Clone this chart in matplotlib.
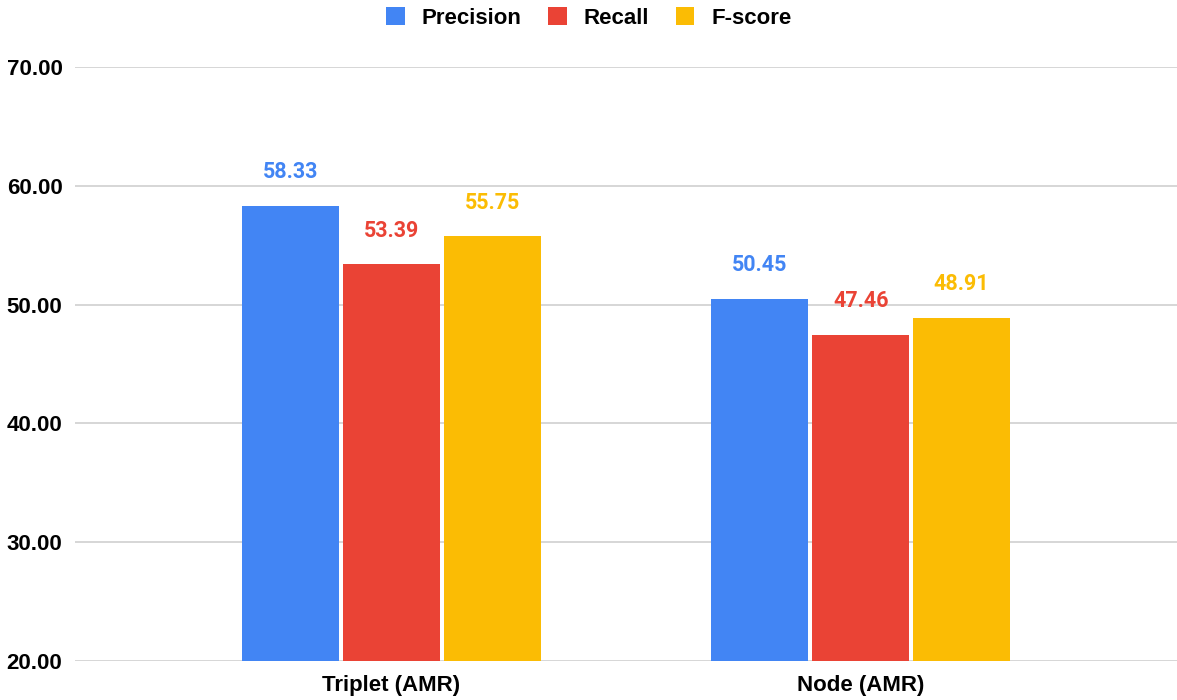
import numpy as np
import matplotlib
matplotlib.use('Agg')
import matplotlib.pyplot as plt

# ── Data ──────────────────────────────────────────────────────────────────────
categories = ["Triplet (AMR)", "Node (AMR)"]
series_names = ["Precision", "Recall", "F-score"]
precision = [58.33, 50.45]
recall = [53.39, 47.46]
fscore = [55.75, 48.91]
y_ticks = [20, 30, 40, 50, 60, 70]

colors = ["#4285F4", "#EA4335", "#FBBC04"]

fig = plt.figure(figsize=(11.77, 7.0), dpi=100)
ax = fig.add_axes([0.0637, 0.0557, 0.9363, 0.8486])

x = np.arange(len(categories))
width = 0.206
step = 0.215

for i, (name, vals, col) in enumerate(zip(series_names, [precision, recall, fscore], colors)):
    xs = x + (i - 1) * step
    ax.bar(xs, np.array(vals) - 20, width, bottom=20, color=col, label=name, zorder=3)
    for xi, v in zip(xs, vals):
        ax.annotate(f"{v:.2f}", (xi, v), xytext=(0, 20), textcoords="offset points",
                    ha="center", va="baseline", color=col, fontsize=15.5,
                    fontfamily="Roboto", fontweight="bold")

ax.set_ylim(20, 70)
ax.set_xlim(-0.674, 1.674)
ax.set_yticks(y_ticks)
ax.set_yticklabels([f"{t:.2f}" for t in y_ticks], fontfamily="Liberation Sans",
                   fontweight="bold", fontsize=16)
ax.set_xticks(x)
ax.set_xticklabels(categories, fontfamily="Liberation Sans", fontweight="bold", fontsize=16)
ax.tick_params(axis="y", length=0, pad=9)
ax.tick_params(axis="x", length=0, pad=10)
ax.yaxis.grid(True, color="#d0d0d0", linewidth=1.2, zorder=0)
for s in ax.spines.values():
    s.set_visible(False)

leg = fig.legend(loc="upper center", bbox_to_anchor=(0.5, 1.018), ncol=3, frameon=False,
                 prop={"family": "Liberation Sans", "weight": "bold", "size": 16},
                 handlelength=0.85, handleheight=0.85, handletextpad=0.75, columnspacing=1.2)

fig.savefig("out.png", dpi=100)
